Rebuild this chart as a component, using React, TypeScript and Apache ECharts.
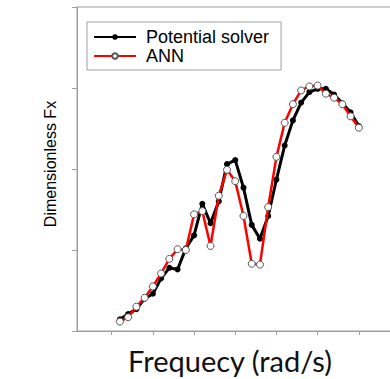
import React, { useEffect, useRef } from "react";
import * as echarts from "echarts";

const xValues = [0.2, 0.4, 0.6, 0.8, 1.0, 1.2, 1.4, 1.6, 1.8, 2.0, 2.2, 2.4, 2.6, 2.8, 3.0, 3.2, 3.4, 3.6, 3.8, 4.0, 4.2, 4.4, 4.6, 4.8, 5.0, 5.2, 5.4, 5.6, 5.8, 6.0];
const potentialSolver = [0.145, 0.21, 0.27, 0.4, 0.46, 0.65, 0.78, 0.76, 1.02, 1.18, 1.57, 1.33, 1.6, 2.06, 2.11, 1.77, 1.31, 1.14, 1.42, 1.87, 2.29, 2.6, 2.82, 2.95, 2.99, 2.99, 2.92, 2.81, 2.7, 2.53];
const ann = [0.116, 0.17, 0.3, 0.41, 0.55, 0.71, 0.89, 1.01, 1.0, 1.44, 1.48, 1.05, 1.67, 1.99, 1.85, 1.42, 0.83, 0.82, 1.53, 2.15, 2.57, 2.8, 2.97, 3.02, 3.03, 2.93, 2.88, 2.8, 2.65, 2.51];
const xTicks = [0, 1, 2, 3, 4, 5, 6];
const seriesNames = ["Potential solver", "ANN"];
const xTitle = "Frequecy (rad/s)";
const yTitle = "Dimensionless Fx";

export default function App() {
  const ref = useRef<HTMLDivElement>(null);
  useEffect(() => {
    if (!ref.current) return;
    const chart = echarts.init(ref.current, null, { renderer: "svg" });
    const axisGray = "#9e9e9e";
    chart.setOption({
      animation: false,
      backgroundColor: "#ffffff",
      grid: {
        left: 77,
        top: 7,
        bottom: 48,
        right: 0,
        show: true,
        borderColor: axisGray,
        borderWidth: 1,
      },
      xAxis: {
        type: "value",
        min: -0.842,
        max: 7,
        axisLine: { show: true, onZero: false, lineStyle: { color: axisGray, width: 1 } },
        axisTick: { show: true, customValues: xTicks, length: 4, lineStyle: { color: axisGray } },
        axisLabel: { show: false },
        splitLine: { show: false },
      },
      yAxis: {
        type: "value",
        min: 0,
        max: 4,
        interval: 1,
        axisLine: { show: true, onZero: false, lineStyle: { color: axisGray, width: 1 } },
        axisTick: { show: true, length: 5, lineStyle: { color: axisGray } },
        axisLabel: { show: false },
        splitLine: { show: false },
      },
      legend: {
        left: 87,
        top: 22,
        orient: "vertical",
        padding: [6, 12, 5, 6],
        itemWidth: 42,
        itemHeight: 7,
        itemGap: 1,
        borderColor: "#a0a0a0",
        borderWidth: 1,
        textStyle: { fontFamily: "Liberation Sans", fontSize: 18, color: "#000", padding: [0, 0, 0, 5] },
        data: seriesNames,
      },
      series: [
        {
          name: seriesNames[0],
          type: "line",
          data: xValues.map((x, i) => [x, potentialSolver[i]]),
          symbol: "circle",
          symbolSize: 6,
          lineStyle: { color: "#000", width: 3 },
          itemStyle: { color: "#000", borderColor: "#000", borderWidth: 0 },
          z: 2,
        },
        {
          name: seriesNames[1],
          type: "line",
          data: xValues.map((x, i) => [x, ann[i]]),
          symbol: "circle",
          symbolSize: 7,
          lineStyle: { color: "#ff0000", width: 2.5 },
          itemStyle: { color: "#ffffff", borderColor: "#555", borderWidth: 1 },
          z: 3,
        },
      ],
      graphic: [
        {
          type: "text",
          x: 50,
          y: 164,
          rotation: Math.PI / 2,
          style: {
            text: yTitle,
            font: "16px 'Liberation Sans'",
            fill: "#000",
            align: "center",
            verticalAlign: "middle",
          },
        },
        {
          type: "text",
          x: 230,
          y: 360,
          style: {
            text: xTitle,
            font: "29px Lato",
            fill: "#111",
            align: "center",
            verticalAlign: "middle",
          },
        },
      ],
    });
    return () => chart.dispose();
  }, []);
  return (
    <div style={{ width: 390, height: 379, position: "absolute", left: 0, top: 0, overflow: "hidden" }}>
      <div ref={ref} style={{ width: 400, height: 379 }} />
    </div>
  );
}
